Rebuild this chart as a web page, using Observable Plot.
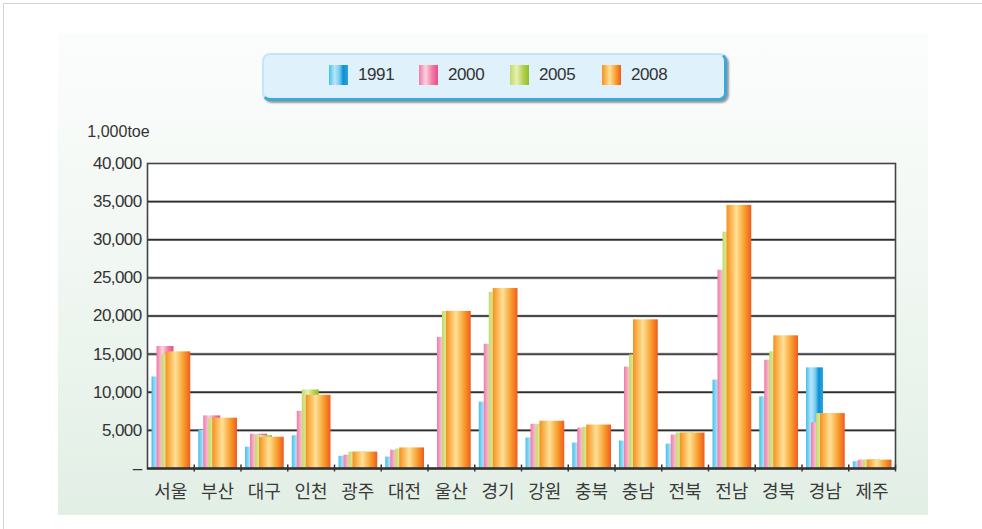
<!DOCTYPE html>
<html>
<head>
<meta charset="utf-8">
<script src="https://cdn.jsdelivr.net/npm/d3@7"></script>
<script src="https://cdn.jsdelivr.net/npm/@observablehq/plot@0.6"></script>
<style>
  html, body { margin: 0; padding: 0; background: #fff; }
  #page { position: relative; width: 982px; height: 529px; overflow: hidden; background: #fff; font-family: "Liberation Sans", Arial, sans-serif; }
  #outer { position: absolute; left: 3px; top: 3px; width: 1000px; height: 600px; border-top: 1px solid #d4d4d4; border-left: 1px solid #d4d4d4; }
  #panel { position: absolute; left: 58px; top: 33px; width: 870px; height: 482px; background: linear-gradient(to bottom, #fbfdfc 0%, #f3f8f4 40%, #e2efe5 100%); }
  #chart { position: absolute; left: 0; top: 0; }
  #chart .yax text { letter-spacing: -0.6px; }
  #legend { position: absolute; left: 262px; top: 53px; width: 460px; height: 43px; background: #dff1fa; border-radius: 8px;
            border-top: 2px solid #c5e6f6; border-left: 2px solid #c5e6f6; border-right: 3px solid #3aa8dc; border-bottom: 3px solid #3aa8dc;
            box-shadow: 2px 2px 2px rgba(90,90,90,0.6); }
  .item { position: absolute; top: 10px; height: 20px; font-size: 17px; color: #333; line-height: 20px; letter-spacing: -0.4px; }
  .sw { display: inline-block; width: 19px; height: 20px; vertical-align: top; margin-right: 10px; }
</style>
</head>
<body>
<div id="page">
  <div id="outer"></div>
  <div id="panel"></div>
  <div id="chart"></div>
  <div id="legend"></div>
</div>
<script>
const categories = ["서울","부산","대구","인천","광주","대전","울산","경기","강원","충북","충남","전북","전남","경북","경남","제주"];
const years = ["1991","2000","2005","2008"];
const v1991 = [12000, 5000, 2800, 4300, 1600, 1500, null, 8700, 4000, 3350, 3600, 3200, 11600, 9400, 13200, 900];
const v2000 = [16000, 6900, 4500, 7500, 1750, 2400, 17200, 16300, 5800, 5300, 13300, 4400, 26000, 14200, 6000, 1100];
const v2005 = [14900, 6500, 4300, 10300, 2150, 2550, 20600, 23100, 5700, 5400, 14900, 4650, 31000, 15300, 7200, 1100];
const v2008 = [15300, 6600, 4100, 9600, 2150, 2700, 20600, 23600, 6200, 5700, 19500, 4650, 34500, 17400, 7200, 1100];
const yTicks = [0, 5000, 10000, 15000, 20000, 25000, 30000, 35000, 40000];
const unitLabel = "1,000toe";

const series = {"1991": v1991, "2000": v2000, "2005": v2005, "2008": v2008};
const rows = [];
for (const yr of years) categories.forEach((c, i) => { if (series[yr][i] != null) rows.push({region: c, year: yr, value: series[yr][i]}); });

const gradients = {
  "1991": [[0,"#45bfee"],[0.3,"#b9e6f9"],[0.55,"#78cbf0"],[0.75,"#0b8fd5"],[1,"#2ea4de"]],
  "2000": [[0,"#ef7aa6"],[0.35,"#fbd2df"],[0.7,"#f07aa5"],[1,"#e64f88"]],
  "2005": [[0,"#c3d965"],[0.35,"#e8f0b6"],[0.7,"#b5d14b"],[1,"#90bd2f"]],
  "2008": [[0,"#f6901c"],[0.4,"#ffe196"],[0.75,"#f79a28"],[1,"#f05a22"]]
};
// bar placement inside each band (band width = 46.75px)
const insets = {"1991": [4.5, 25.25], "2000": [9.5, 20.25], "2005": [14.5, 15.25], "2008": [18.5, 3.5]};

const bars = years.map(yr => Plot.barY(rows.filter(d => d.year === yr), {
  x: "region", y: "value", fill: `url(#g${yr})`,
  insetLeft: insets[yr][0], insetRight: insets[yr][1]
}));

const chart = Plot.plot({
  width: 982, height: 529,
  marginLeft: 147, marginRight: 87, marginTop: 163, marginBottom: 61,
  style: {background: "transparent", fontFamily: "'Liberation Sans', Arial, sans-serif", fontSize: "16px", color: "#333"},
  x: {domain: categories, padding: 0, round: false, label: null},
  y: {domain: [0, 40000], label: null},
  marks: [
    Plot.frame({fill: "#fff", stroke: "none"}),
    Plot.ruleY(yTicks.slice(1, -1), {stroke: "#9c9c9c", strokeWidth: 2.6}),
    Plot.ruleY(yTicks.slice(1, -1), {stroke: "#2e2e2e", strokeWidth: 1.3}),
    ...bars,
    Plot.frame({stroke: "#444", strokeWidth: 1.6}),
    Plot.ruleY([0], {stroke: "#333", strokeWidth: 2.5}),
    Plot.ruleX(categories, {x: d => d, y1: -450, y2: 450, dx: 23.375, stroke: "#333", strokeWidth: 1.5}),
    Plot.axisY({ticks: yTicks, tickSize: 0, tickPadding: 6, fontSize: 17, label: null, className: "yax",
      tickFormat: d => d === 0 ? "–" : d3.format(",")(d)}),
    Plot.axisX({tickSize: 0, tickPadding: 17, fontSize: 18, label: null, fill: "#3a3a3a", fontFamily: "'Noto Sans CJK KR', sans-serif"}),
    Plot.text([unitLabel], {frameAnchor: "top-left", dx: -29, dy: -38, textAnchor: "middle", fontSize: 16, fill: "#333"})
  ]
});

const defs = d3.select(chart).insert("defs", ":first-child");
for (const yr of years) {
  const g = defs.append("linearGradient").attr("id", `g${yr}`).attr("x1", 0).attr("x2", 1).attr("y1", 0).attr("y2", 0);
  for (const [o, c] of gradients[yr]) g.append("stop").attr("offset", o).attr("stop-color", c);
}
document.getElementById("chart").appendChild(chart);

// legend
const legend = document.getElementById("legend");
const legendX = [65, 155, 246, 338];
years.forEach((yr, i) => {
  const item = document.createElement("div");
  item.className = "item";
  item.style.left = legendX[i] + "px";
  const sw = document.createElement("span");
  sw.className = "sw";
  sw.style.background = `linear-gradient(to right, ${gradients[yr].map(([o, c]) => `${c} ${o * 100}%`).join(", ")})`;
  item.appendChild(sw);
  item.appendChild(document.createTextNode(yr));
  legend.appendChild(item);
});
</script>
</body>
</html>
